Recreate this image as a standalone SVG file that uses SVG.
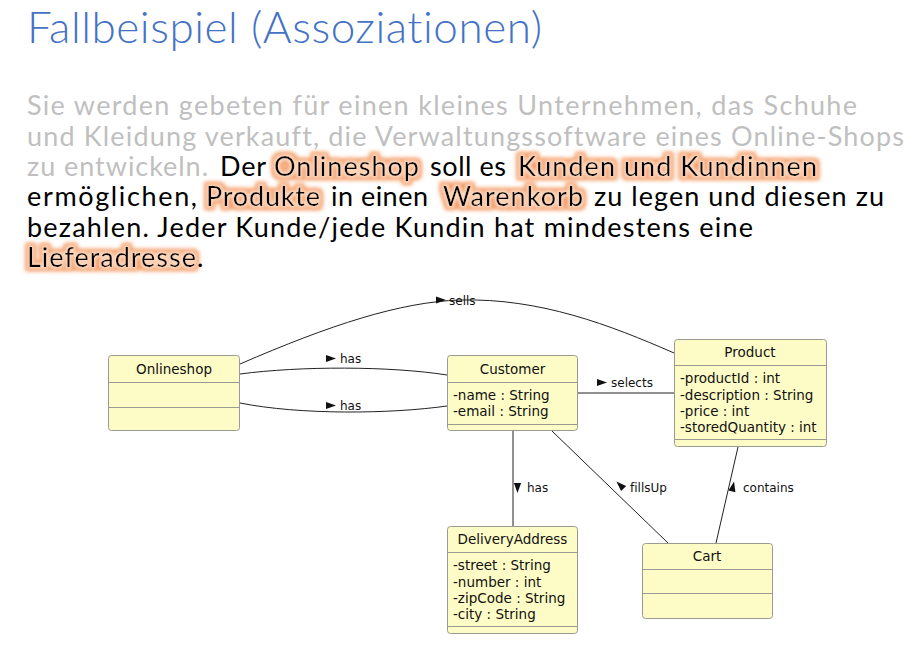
<svg xmlns="http://www.w3.org/2000/svg" width="916" height="647" viewBox="0 0 916 647">
  <defs>
    <style>
      text { font-variant-ligatures: none; font-feature-settings: "liga" 0, "clig" 0, "dlig" 0; }
      .title { font-family: Lato, "Liberation Sans", sans-serif; font-weight: 300; font-size: 44px; fill: #4472C4; }
      .body { font-family: Lato, "Liberation Sans", sans-serif; font-size: 27px; }
      .muted { fill: #BFBFBF; }
      .ink { fill: #000000; }
      .hl { fill: #000000; filter: url(#glow); }
      .cls rect, .cls line { stroke: #9A9A92; stroke-width: 1; }
      .cls rect { fill: #FEFCC6; }
      .name { font-family: "DejaVu Sans", Verdana, sans-serif; font-size: 13.5px; fill: #111; text-anchor: middle; }
      .attr { font-family: "DejaVu Sans", Verdana, sans-serif; font-size: 13.5px; fill: #111; }
      .lbl { font-family: "DejaVu Sans", Verdana, sans-serif; font-size: 12px; fill: #111; }
      .conn path { fill: none; stroke: #222; stroke-width: 1; }
      .tri { fill: #111; }
    </style>
    <!-- orange text glow: darker outer ring, pale peach core -->
    <filter id="glow" x="-15%" y="-60%" width="130%" height="220%">
      <feMorphology in="SourceAlpha" operator="dilate" radius="4" result="d1"/>
      <feGaussianBlur in="d1" stdDeviation="2.3" result="b1"/>
      <feFlood flood-color="#F2914F"/>
      <feComposite in2="b1" operator="in" result="outer"/>
      <feMorphology in="SourceAlpha" operator="dilate" radius="2.2" result="d2"/>
      <feGaussianBlur in="d2" stdDeviation="1.5" result="b2"/>
      <feFlood flood-color="#FCD6BA"/>
      <feComposite in2="b2" operator="in" result="inner"/>
      <feMerge>
        <feMergeNode in="outer"/>
        <feMergeNode in="inner"/>
        <feMergeNode in="SourceGraphic"/>
      </feMerge>
    </filter>
    <polygon id="arr" points="-5,-3.6 5,0 -5,3.6"/>
  </defs>

  <rect width="916" height="647" fill="#FFFFFF"/>

  <!-- heading -->
  <text class="title" x="27" y="43" textLength="515">Fallbeispiel (Assoziationen)</text>

  <!-- task description -->
  <g id="description" class="body">
    <text class="muted" x="27" y="115" textLength="830">Sie werden gebeten für einen kleines Unternehmen, das Schuhe</text>
    <text class="muted" x="27" y="146" textLength="877">und Kleidung verkauft, die Verwaltungssoftware eines Online-Shops</text>
    <text class="muted" x="27" y="176" textLength="181">zu entwickeln.</text>
    <text class="ink" x="220" y="176" textLength="46">Der</text>
    <text class="hl" x="274" y="176" textLength="145">Onlineshop</text>
    <text class="ink" x="430" y="176" textLength="76">soll es</text>
    <text class="hl" x="518" y="176" textLength="299">Kunden und Kundinnen</text>
    <text class="ink" x="27" y="206" textLength="170">ermöglichen,</text>
    <text class="hl" x="206" y="206" textLength="114">Produkte</text>
    <text class="ink" x="331" y="206" textLength="97">in einen</text>
    <text class="hl" x="443" y="206" textLength="140">Warenkorb</text>
    <text class="ink" x="594" y="206" textLength="290">zu legen und diesen zu</text>
    <text class="ink" x="27" y="237" textLength="726">bezahlen. Jeder Kunde/jede Kundin hat mindestens eine</text>
    <text class="hl" x="27" y="267" textLength="169">Lieferadresse</text>
    <text class="ink" x="197" y="267">.</text>
  </g>

  <!-- associations -->
  <g id="connectors" class="conn">
    <path d="M240,364 C330,325 400,302 460,300 C540,298 610,325 674,353"/>
    <path d="M240,374 C300,366 390,366 447,375"/>
    <path d="M240,403 C300,415 390,414 447,406"/>
    <path d="M578,393 L674,393"/>
    <path d="M513,431 L513,526"/>
    <path d="M552,431 L668,543"/>
    <path d="M738,447 L716,543"/>

    <use href="#arr" class="tri" transform="translate(441,300)"/>
    <text class="lbl" x="449" y="305">sells</text>
    <use href="#arr" class="tri" transform="translate(331,358.5)"/>
    <text class="lbl" x="340" y="363">has</text>
    <use href="#arr" class="tri" transform="translate(331,405.5)"/>
    <text class="lbl" x="340" y="410">has</text>
    <use href="#arr" class="tri" transform="translate(602,382.5)"/>
    <text class="lbl" x="611" y="387">selects</text>
    <use href="#arr" class="tri" transform="translate(517.5,488) rotate(90)"/>
    <text class="lbl" x="527" y="492">has</text>
    <use href="#arr" class="tri" transform="translate(620,485) rotate(-136)"/>
    <text class="lbl" x="630" y="492">fillsUp</text>
    <use href="#arr" class="tri" transform="translate(733,486.5) rotate(-77.5)"/>
    <text class="lbl" x="743" y="492">contains</text>
  </g>

  <!-- classes -->
  <g id="Onlineshop" class="cls">
    <rect x="108.5" y="355.5" width="131" height="75" rx="3"/>
    <line x1="108.5" y1="382.5" x2="239.5" y2="382.5"/>
    <line x1="108.5" y1="407.5" x2="239.5" y2="407.5"/>
    <text class="name" x="174" y="374">Onlineshop</text>
  </g>

  <g id="Customer" class="cls">
    <rect x="447.5" y="355.5" width="130" height="75" rx="3"/>
    <line x1="447.5" y1="382.5" x2="577.5" y2="382.5"/>
    <line x1="447.5" y1="424.5" x2="577.5" y2="424.5"/>
    <text class="name" x="512.5" y="374">Customer</text>
    <text class="attr" x="453" y="400">-name : String</text>
    <text class="attr" x="453" y="416">-email : String</text>
  </g>

  <g id="Product" class="cls">
    <rect x="674.5" y="339.5" width="152" height="107" rx="3"/>
    <line x1="674.5" y1="365.5" x2="826.5" y2="365.5"/>
    <line x1="674.5" y1="439.5" x2="826.5" y2="439.5"/>
    <text class="name" x="750" y="357">Product</text>
    <text class="attr" x="680" y="383">-productId : int</text>
    <text class="attr" x="680" y="400">-description : String</text>
    <text class="attr" x="680" y="416">-price : int</text>
    <text class="attr" x="680" y="432">-storedQuantity : int</text>
  </g>

  <g id="DeliveryAddress" class="cls">
    <rect x="447.5" y="526.5" width="130" height="107" rx="3"/>
    <line x1="447.5" y1="552.5" x2="577.5" y2="552.5"/>
    <line x1="447.5" y1="626.5" x2="577.5" y2="626.5"/>
    <text class="name" x="512.5" y="544">DeliveryAddress</text>
    <text class="attr" x="453" y="570">-street : String</text>
    <text class="attr" x="453" y="587">-number : int</text>
    <text class="attr" x="453" y="603">-zipCode : String</text>
    <text class="attr" x="453" y="619">-city : String</text>
  </g>

  <g id="Cart" class="cls">
    <rect x="642.5" y="543.5" width="130" height="75" rx="3"/>
    <line x1="642.5" y1="569.5" x2="772.5" y2="569.5"/>
    <line x1="642.5" y1="593.5" x2="772.5" y2="593.5"/>
    <text class="name" x="707" y="561">Cart</text>
  </g>
</svg>
